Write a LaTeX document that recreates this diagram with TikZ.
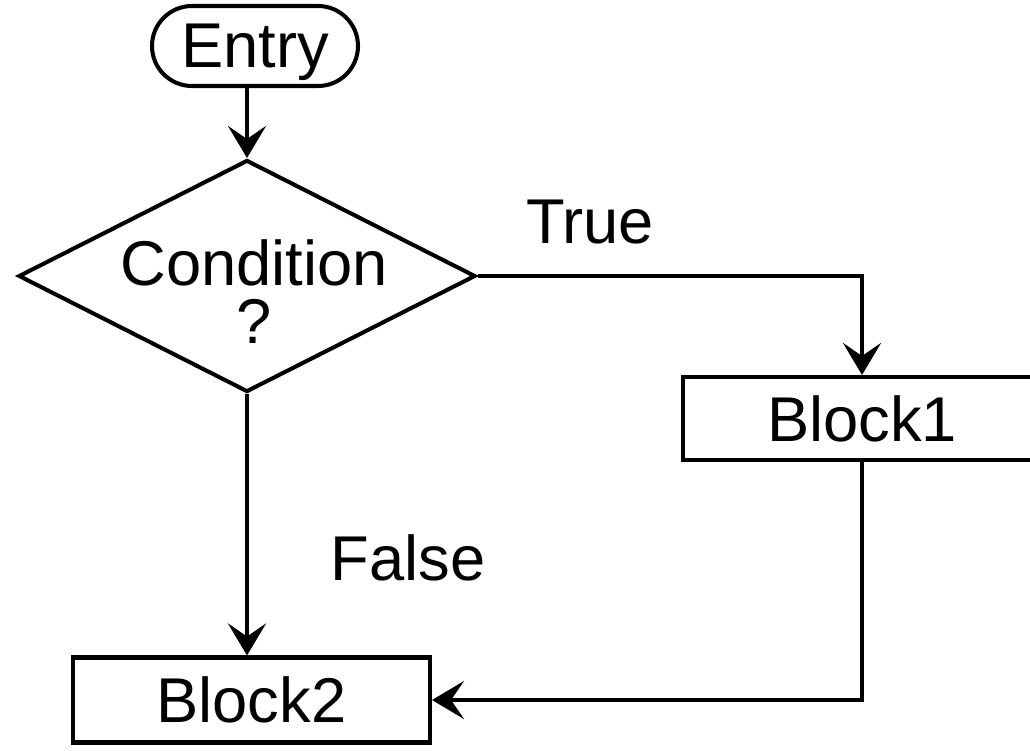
\documentclass[tikz,border=0pt]{standalone}
\usepackage{fontspec}
\setmainfont{Liberation Sans}
\usetikzlibrary{shapes.geometric,arrows.meta}

\begin{document}
\begin{tikzpicture}[
  font=\fontsize{18}{16.5}\selectfont,
  line width=1.15pt,
  box/.style={draw,rectangle,minimum width=3.57cm,minimum height=0.85cm,inner sep=0pt},
  decision/.style={draw,diamond,minimum width=4.57cm,minimum height=2.32cm,inner sep=0pt},
  arr/.style={-{Stealth[length=3.2mm,width=3.8mm,inset=1.3mm]}}
]
  \useasboundingbox (0,0) rectangle (10.30,-7.50);

  \node[draw,rounded corners=0.4cm,minimum width=2.06cm,minimum height=0.80cm,inner sep=0pt,text depth=0pt] (entry) at (2.55,-0.46) {Entry};
  \node[decision] (cond) at (2.47,-2.76) {};
  \node[align=center] (condtext) at (2.54,-2.915) {Condition\\?};
  \node[box,minimum width=3.58cm,minimum height=0.83cm] (block1) at (8.62,-4.185) {Block1};
  \node[box] (block2) at (2.515,-7.00) {Block2};

  \node (truelbl) at (5.90,-2.22) {True};
  \node (falselbl) at (4.08,-5.58) {False};

  \draw[arr] (entry.south -| cond.north) -- (cond.north);
  \draw[arr] (cond.east) -| (block1.north);
  \draw[arr] (cond.south) -- (cond.south |- block2.north);
  \draw[arr] (block1.south) |- (block2.east);
\end{tikzpicture}
\end{document}
